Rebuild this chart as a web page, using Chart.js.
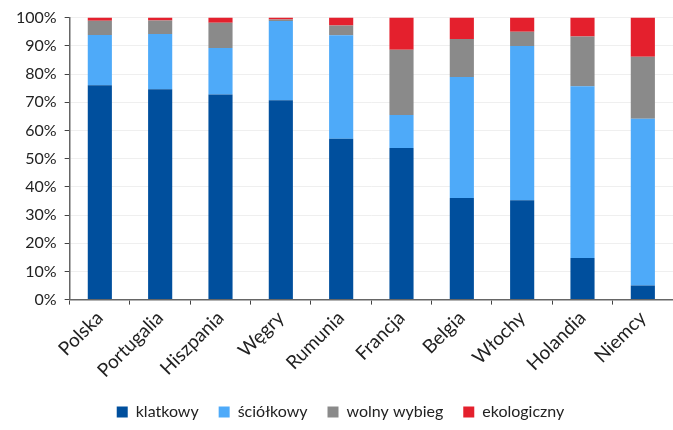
<!DOCTYPE html>
<html><head><meta charset="utf-8">
<script src="https://cdn.jsdelivr.net/npm/chart.js@4"></script>
<style>html,body{margin:0;padding:0;background:#fff}#wrap{width:673px;height:430px}</style>
</head><body><div id="wrap"><canvas id="c" width="673" height="430"></canvas></div>
<script>
const categories = ["Polska","Portugalia","Hiszpania","Węgry","Rumunia","Francja","Belgia","Włochy","Holandia","Niemcy"];
const klatkowy   = [76, 74.6, 72.7, 70.7, 57, 53.8, 36, 35.2, 14.8, 5];
const sciolkowy  = [17.8, 19.6, 16.5, 28.1, 36.7, 11.7, 42.9, 54.7, 60.9, 59.1];
const wolny      = [5.1, 4.8, 9, 0.5, 3.5, 23.1, 13.5, 5.1, 17.6, 22];
const ekologiczny= [1.1, 1.0, 1.8, 0.7, 2.8, 11.4, 7.6, 5.0, 6.7, 13.9];
const yTicks = [0,10,20,30,40,50,60,70,80,90,100];

const FONT = "Lato, 'Open Sans', sans-serif";
new Chart(document.getElementById('c'), {
  type: 'bar',
  data: {
    labels: categories,
    datasets: [
      {label:'klatkowy', data:klatkowy, backgroundColor:'#004f9d'},
      {label:'ściółkowy', data:sciolkowy, backgroundColor:'#4eaaf9'},
      {label:'wolny wybieg', data:wolny, backgroundColor:'#8a8a8a'},
      {label:'ekologiczny', data:ekologiczny, backgroundColor:'#e4202d'}
    ].map(d => Object.assign(d, {barPercentage:0.4, categoryPercentage:1, borderWidth:0}))
  },
  options: {
    responsive:false, animation:false,
    layout:{padding:{left:8,right:0,top:17,bottom:0}},
    plugins:{
      legend:{position:'bottom', labels:{boxWidth:11, boxHeight:11, padding:20, color:'#222', font:{family:FONT,size:16}}},
      tooltip:{enabled:false}
    },
    scales:{
      x:{stacked:true,
        grid:{display:true, drawOnChartArea:false, drawTicks:true, tickLength:5, tickColor:'#444', offset:true},
        border:{color:'#666', width:1.5},
        ticks:{minRotation:45, maxRotation:45, color:'#222', font:{family:FONT,size:19}, padding:2}
      },
      y:{stacked:true, min:0, max:100,
        afterBuildTicks: s => { s.ticks = yTicks.map(v=>({value:v})); },
        grid:{color:'#efefef', tickColor:'#444', tickLength:5},
        border:{color:'#666', width:1.5},
        ticks:{color:'#222', font:{family:FONT,size:16}, padding:8, callback:v=>v+'%'}
      }
    }
  }
});
</script></body></html>
